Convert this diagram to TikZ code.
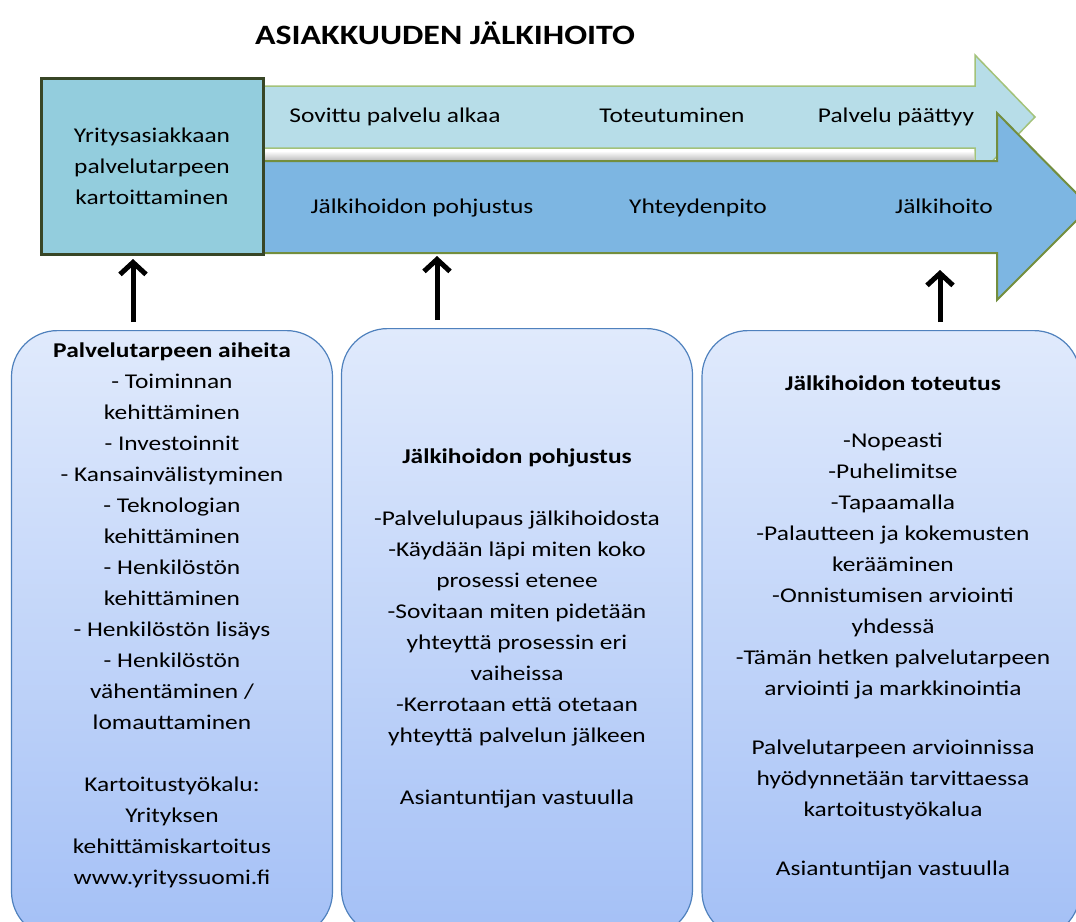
\documentclass[tikz,border=0pt]{standalone}
\usepackage{fontspec}
\setmainfont{Carlito}[FakeStretch=1.21]
\usetikzlibrary{arrows.meta,positioning}

\definecolor{ylavari}{HTML}{B7DDE8}
\definecolor{ylareuna}{HTML}{A3C27A}
\definecolor{alavari}{HTML}{7DB6E2}
\definecolor{alareuna}{HTML}{738E3E}
\definecolor{laatikko}{HTML}{93CDDD}
\definecolor{laatikkoreuna}{HTML}{384626}
\definecolor{kortti}{HTML}{4F81BD}
\definecolor{korttiyla}{HTML}{E0EAFC}
\definecolor{korttiala}{HTML}{A4C0F6}

\tikzset{
  kortti/.style={draw=kortti, line width=1.2pt, rounded corners=46pt,
    top color=korttiyla, bottom color=korttiala, minimum height=607pt},
  vaihe/.style={text height=14pt, text depth=4pt},
  nuoli/.style={line width=5pt, -{Straight Barb[length=12pt,width=26pt]}, shorten <=8pt}
}

\begin{document}
\begin{tikzpicture}[x=1pt, y=-1pt, font=\fontsize{21}{31}\selectfont]
  \useasboundingbox (0,0) rectangle (1076,921);

  \node[font=\bfseries\fontsize{28}{34}\selectfont] (otsikko) at (445,33) {ASIAKKUUDEN JÄLKIHOITO};

  % ylempi ja alempi nuoli
  \draw[ylareuna, fill=ylavari, line width=1.5pt] (262,86) -- (975,86) -- (975,55) -- (1035,117)
    -- (975,179) -- (975,148) -- (262,148) -- cycle;
  \shade[top color=white, bottom color=black!22] (264,151) rectangle (974,159);
  \draw[alareuna, fill=alavari, line width=2pt] (262,161) -- (997,161) -- (997,113) -- (1090,207)
    -- (997,300) -- (997,253) -- (262,253) -- cycle;

  \node[vaihe] (alkaa)      at (395,117) {Sovittu palvelu alkaa};
  \node[vaihe] (toteutuminen) at (672,117) {Toteutuminen};
  \node[vaihe] (paattyy)    at (896,117) {Palvelu päättyy};
  \node[vaihe] (pohjustus)  at (422,208) {Jälkihoidon pohjustus};
  \node[vaihe] (yhteys)     at (698,208) {Yhteydenpito};
  \node[vaihe] (jalkihoito) at (944,208) {Jälkihoito};

  \node[draw=laatikkoreuna, line width=3pt, fill=laatikko, minimum width=222pt, minimum height=176pt,
    align=center] (kartoitus) at (152,166)
    {Yritysasiakkaan\\palvelutarpeen\\kartoittaminen};

  % alalaatikot
  \node[kortti, minimum width=321pt, anchor=north] (aiheet)   at (172,330) {};
  \node[kortti, minimum width=351pt, anchor=north] (pohjalaatikko) at (517,328) {};
  \node[kortti, minimum width=378pt, anchor=north] (toteutus) at (891,330) {};

  \node[align=center] (aiheet teksti) at (172,615)
    {\textbf{Palvelutarpeen aiheita}\\- Toiminnan\\kehittäminen\\- Investoinnit\\- Kansainvälistyminen\\
     - Teknologian\\kehittäminen\\- Henkilöstön\\kehittäminen\\- Henkilöstön lisäys\\- Henkilöstön\\
     vähentäminen /\\lomauttaminen\\[31pt]Kartoitustyökalu:\\Yrityksen\\kehittämiskartoitus\\www.yrityssuomi.fi};
  \node[align=center] (pohjustus teksti) at (517,628)
    {\textbf{Jälkihoidon pohjustus}\\[31pt]-Palvelulupaus jälkihoidosta\\-Käydään läpi miten koko\\
     prosessi etenee\\-Sovitaan miten pidetään\\yhteyttä prosessin eri\\vaiheissa\\
     -Kerrotaan että otetaan\\yhteyttä palvelun jälkeen\\[31pt]Asiantuntijan vastuulla};
  \node[align=center] (toteutus teksti) at (893,627)
    {\textbf{Jälkihoidon toteutus}\\[26pt]-Nopeasti\\-Puhelimitse\\-Tapaamalla\\
     -Palautteen ja kokemusten\\kerääminen\\-Onnistumisen arviointi\\yhdessä\\
     -Tämän hetken palvelutarpeen\\arviointi ja markkinointia\\[28pt]Palvelutarpeen arvioinnissa\\
     hyödynnetään tarvittaessa\\kartoitustyökalua\\[28pt]Asiantuntijan vastuulla};

  \coordinate (k1) at (133,259);
  \coordinate (k2) at (437,256);
  \coordinate (k3) at (940,270);
  \draw[nuoli] (aiheet.north -| k1) -- (k1);
  \draw[nuoli] (pohjalaatikko.north -| k2) -- (k2);
  \draw[nuoli] (toteutus.north -| k3) -- (k3);
\end{tikzpicture}
\end{document}
